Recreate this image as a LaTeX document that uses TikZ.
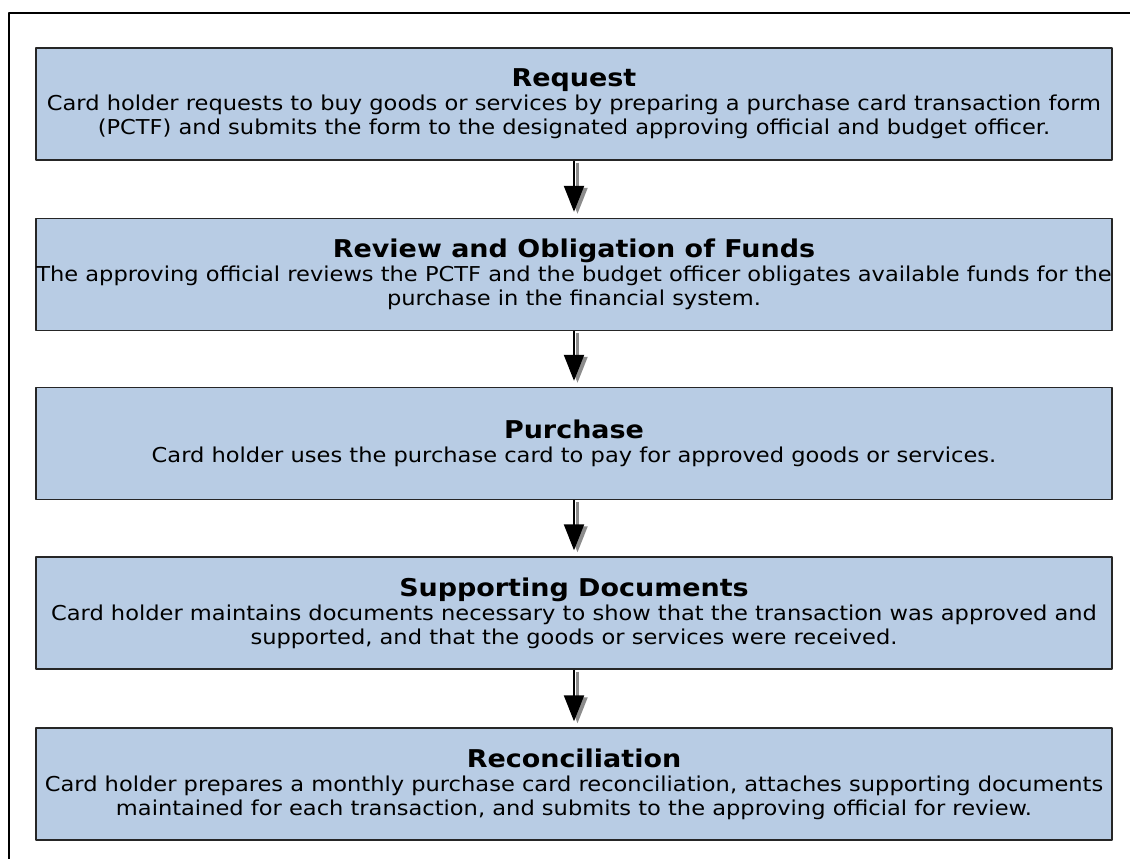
\documentclass[tikz,border=0pt]{standalone}
\usepackage{fontspec}
\setmainfont{DejaVu Sans}[FakeStretch=1.1]
\usetikzlibrary{arrows.meta}
\definecolor{boxblue}{HTML}{B8CCE4}
\tikzset{
  stepbox/.style={draw=black!85, line width=1.4pt, fill=boxblue, minimum width=1076pt,
    minimum height=112pt, align=center, inner sep=0pt, font=\fontsize{20.5}{24}\selectfont},
  flow/.style={line width=2.2pt, -{Triangle[length=26pt, width=20pt]}, shorten >=6pt}
}
\newcommand{\steptitle}[1]{{\fontsize{24.5}{28}\selectfont\bfseries #1}}
\begin{document}
\begin{tikzpicture}[x=1pt, y=-1pt, line join=round]
  \useasboundingbox (0,0) rectangle (1130,859);
  % outer frame, open to the right and bottom
  \draw[line width=2.2pt] (9,859) -- (9,13) -- (1131,13);
  \node[stepbox] (request) at (574,104) {\steptitle{Request}\\
    Card holder requests to buy goods or services by preparing a purchase card transaction form\\
    (PCTF) and submits the form to the designated approving official and budget officer.};
  \node[stepbox] (review) at (574,274.5) {\steptitle{Review and Obligation of Funds}\\
    The approving official reviews the PCTF and the budget officer obligates available funds for the\\
    purchase in the financial system.};
  \node[stepbox] (purchase) at (574,443.5) {\steptitle{Purchase}\\
    Card holder uses the purchase card to pay for approved goods or services.};
  \node[stepbox] (support) at (574,613) {\steptitle{Supporting Documents}\\
    Card holder maintains documents necessary to show that the transaction was approved and\\
    supported, and that the goods or services were received.};
  \node[stepbox] (recon) at (574,784) {\steptitle{Reconciliation}\\
    Card holder prepares a monthly purchase card reconciliation, attaches supporting documents\\
    maintained for each transaction, and submits to the approving official for review.};
  % arrows with a grey shadow
  \foreach \a/\b in {request/review, review/purchase, purchase/support, support/recon}{
    \draw[flow, black!45, transform canvas={xshift=3.5pt, yshift=-2pt}] (\a.south) -- (\b.north);
    \draw[flow] (\a.south) -- (\b.north);
  }
\end{tikzpicture}
\end{document}
